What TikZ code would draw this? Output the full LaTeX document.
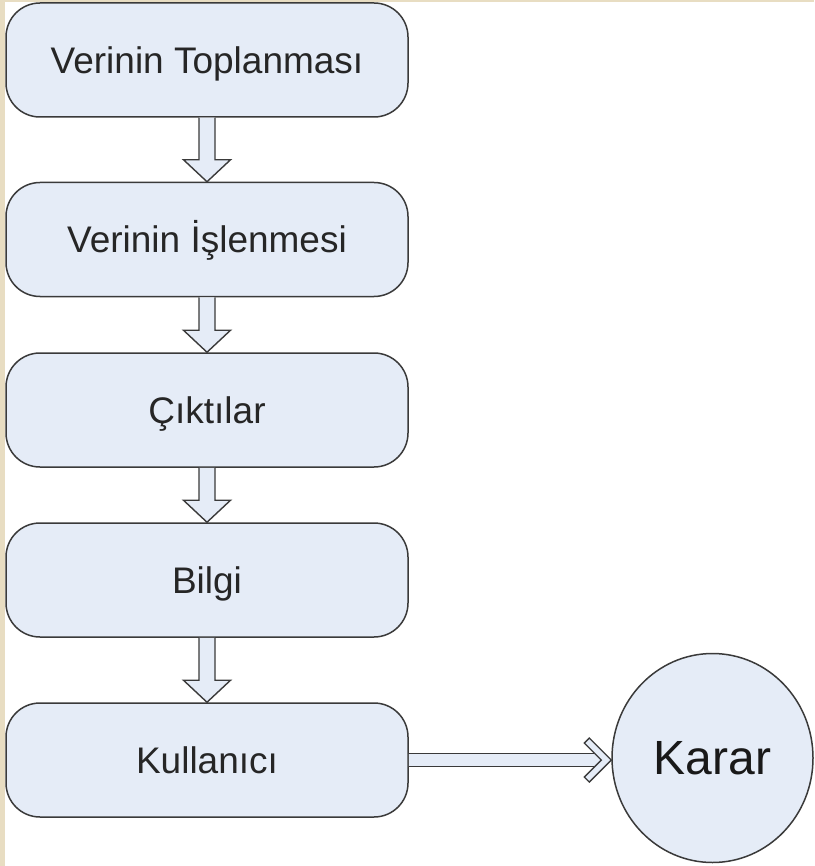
\documentclass[tikz,border=0pt]{standalone}
\usepackage{fontspec}
\setmainfont{Liberation Sans}
\usetikzlibrary{shapes.geometric,calc}
\definecolor{boxfill}{HTML}{E5ECF7}
\definecolor{edgecol}{HTML}{3A3A3A}
\definecolor{beige}{HTML}{E8DDC2}
\begin{document}
\begin{tikzpicture}[x=1pt,y=-1pt,
  stepbox/.style={draw=edgecol,line width=1.5pt,fill=boxfill,rounded corners=34pt,
    minimum width=402pt,minimum height=114pt,inner sep=0pt,
    font=\fontsize{37}{40}\selectfont,text=black!85,text height=27pt,text depth=0pt},
  decision/.style={draw=edgecol,line width=1.5pt,fill=boxfill,ellipse,
    minimum width=201pt,minimum height=209pt,inner sep=0pt,
    font=\fontsize{48}{52}\selectfont,text=black!90},
  blockarrow/.style={draw=edgecol,line width=1.4pt,fill=boxfill,line join=miter}]
\useasboundingbox (0,0) rectangle (814,866);
\fill[white] (0,0) rectangle (814,866);
\fill[beige] (0,0) rectangle (5,866);
\fill[beige] (0,0) rectangle (814,2.5);
% nodes
\node[stepbox] (b1) at (207,60) {Verinin Toplanması};
\node[stepbox] (b2) at (207,239.5) {Verinin İşlenmesi};
\node[stepbox] (b3) at (207,410) {Çıktılar};
\node[stepbox] (b4) at (207,580) {Bilgi};
\node[stepbox] (b5) at (207,760) {Kullanıcı};
\node[decision] (karar) at (712.5,758) {Karar};
% down arrows
\foreach \a/\b in {b1/b2,b2/b3,b3/b4,b4/b5}{
  \draw[blockarrow] ($(\a.south)+(-8,0)$) -- ($(\b.north)+(-8,-22)$) -- ($(\b.north)+(-23.5,-22)$)
    -- (\b.north) -- ($(\b.north)+(23.5,-22)$) -- ($(\b.north)+(8,-22)$) -- ($(\a.south)+(8,0)$);
}
% horizontal arrow
\path (karar.west |- b5.east) coordinate (tip);
\fill[boxfill] ($(b5.east)+(0,-6.5)$) -- ($(tip)+(-16.5,-6.5)$) -- ($(tip)+(-10,0)$)
  -- ($(tip)+(-16.5,6.5)$) -- ($(b5.east)+(0,6.5)$) -- cycle;
\draw[edgecol,line width=1.4pt] ($(b5.east)+(0,-6.5)$) -- ($(tip)+(-16.5,-6.5)$);
\draw[edgecol,line width=1.4pt] ($(b5.east)+(0,6.5)$) -- ($(tip)+(-16.5,6.5)$);
\draw[blockarrow] (tip) -- ($(tip)+(-22,-22)$) -- ($(tip)+(-27,-17)$) -- ($(tip)+(-10,0)$)
  -- ($(tip)+(-27,17)$) -- ($(tip)+(-22,22)$) -- cycle;
\end{tikzpicture}
\end{document}
